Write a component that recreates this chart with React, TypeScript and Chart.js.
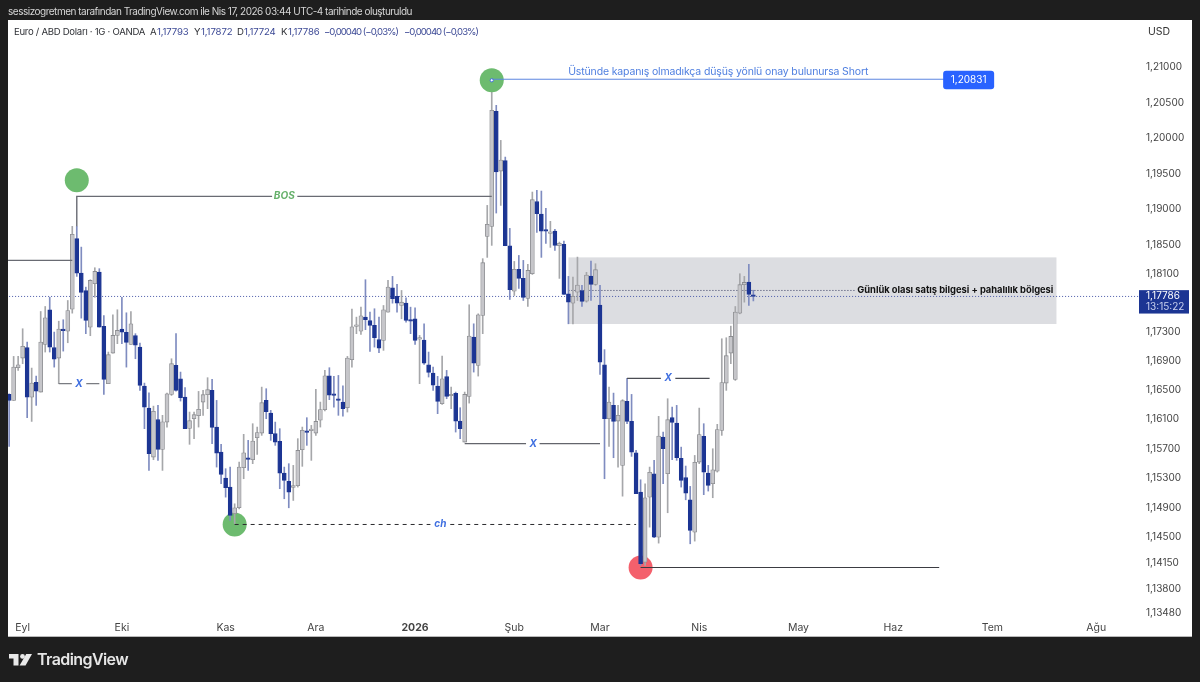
import React, { useEffect, useRef } from "react";
import Chart from "chart.js/auto";

const opens = [
  1.16438,1.16356,1.16804,1.16936,1.17079,1.16401,1.16603,1.1647,1.17124,1.17602,
  1.17079,1.16936,1.17335,1.17307,1.1761,1.18589,1.18109,1.17869,1.17362,1.17962,
  1.18123,1.17372,1.16585,1.17005,1.17248,1.17335,1.1729,1.17124,1.17244,1.17087,
  1.16552,1.16251,1.15584,1.16093,1.15688,1.1606,1.16438,1.16836,1.16653,1.16401,
  1.15974,1.16106,1.16148,1.16333,1.16434,1.16493,1.15992,1.15651,1.15298,1.15177,
  1.14816,1.14897,1.1544,1.15562,1.15548,1.15848,1.1591,1.16356,1.16183,1.15902,
  1.15797,1.15366,1.15254,1.15173,1.15196,1.15684,1.15938,1.15943,1.1591,1.16087,
  1.1623,1.16694,1.16442,1.16374,1.16333,1.16256,1.16914,1.17372,1.17307,1.175,
  1.17454,1.17386,1.17189,1.17179,1.17569,1.17907,1.17786,1.17661,1.17693,1.17454,
  1.17477,1.17197,1.17183,1.16845,1.1673,1.16552,1.16311,1.16681,1.1642,1.16452,
  1.16073,1.15788,1.16411,1.17225,1.16836,1.17523,1.1862,1.1876,1.20376,1.19534,
  1.19681,1.1849,1.17859,1.18161,1.18036,1.17758,1.18101,1.19105,1.18932,1.18708,
  1.18662,1.18694,1.1849,1.18509,1.17823,1.17693,1.17845,1.17869,1.1772,1.18068,
  1.17953,1.17665,1.16845,1.16106,1.16288,1.16074,1.15471,1.16342,1.16069,1.15643,
  1.15109,1.14165,1.15041,1.15358,1.14502,1.15856,1.15358,1.1612,1.16047,1.15566,
  1.15304,1.15005,1.14569,1.15516,1.15866,1.15366,1.15222,1.15393,1.15947,1.16593,
  1.17005,1.16644,1.17555,1.17949,1.17984,1.17793,
];
const highs = [
  1.16447,1.16959,1.16959,1.1734,1.17156,1.16799,1.16689,1.17578,1.17647,1.17775,
  1.17294,1.17444,1.17464,1.1773,1.1876,1.1876,1.18471,1.17915,1.18018,1.18184,
  1.18171,1.17523,1.17019,1.17532,1.17602,1.17775,1.1756,1.17578,1.17272,1.17142,
  1.16593,1.16461,1.16278,1.16288,1.16152,1.16456,1.16927,1.17272,1.16744,1.1653,
  1.16197,1.16197,1.16479,1.16493,1.16667,1.16644,1.16356,1.15757,1.15426,1.15448,
  1.14951,1.15516,1.15893,1.15811,1.16038,1.15992,1.16538,1.16516,1.1622,1.1606,
  1.1597,1.15448,1.15494,1.15471,1.15834,1.15992,1.1612,1.16015,1.16507,1.16333,
  1.16767,1.16804,1.16685,1.16698,1.16557,1.16959,1.1761,1.175,1.17638,1.18018,
  1.17569,1.17616,1.175,1.17661,1.18008,1.18064,1.17953,1.17869,1.17767,1.17638,
  1.17629,1.17248,1.17408,1.17019,1.16812,1.16685,1.16964,1.16767,1.16538,1.1647,
  1.16256,1.1647,1.17671,1.17408,1.17546,1.1831,1.19053,1.20831,1.20461,1.19966,
  1.19731,1.18732,1.18272,1.18355,1.18286,1.1823,1.1924,1.19264,1.19254,1.19012,
  1.1883,1.18718,1.18541,1.18555,1.18064,1.18054,1.18332,1.17939,1.1812,1.18276,
  1.1824,1.17939,1.17052,1.16538,1.16456,1.16288,1.16366,1.16657,1.16438,1.15674,
  1.15276,1.15222,1.15448,1.15539,1.16138,1.15924,1.16379,1.16265,1.16288,1.15719,
  1.15462,1.15186,1.15606,1.16251,1.16038,1.15471,1.15697,1.16029,1.17202,1.17216,
  1.17376,1.17647,1.18101,1.18064,1.1823,1.17872,
];
const lows = [
  1.15729,1.16356,1.16767,1.16859,1.1612,1.16069,1.16288,1.1647,1.17019,1.17019,
  1.16812,1.16585,1.17032,1.17147,1.17555,1.18064,1.17486,1.17272,1.17244,1.17775,
  1.17362,1.16438,1.16585,1.17005,1.17134,1.17134,1.16812,1.17124,1.16927,1.16493,
  1.1597,1.15403,1.15548,1.15539,1.15403,1.15992,1.16424,1.16483,1.16347,1.1597,
  1.15757,1.15834,1.15992,1.16152,1.16243,1.15766,1.15448,1.15222,1.15041,1.14726,
  1.14682,1.14883,1.1529,1.15403,1.15494,1.1562,1.15879,1.16106,1.15811,1.15743,
  1.15155,1.15019,1.14897,1.14996,1.15177,1.15458,1.15743,1.15539,1.15879,1.15992,
  1.16211,1.16366,1.16265,1.16152,1.16142,1.16197,1.16812,1.17272,1.17262,1.17327,
  1.17028,1.17087,1.1701,1.17042,1.17569,1.17693,1.17569,1.17477,1.17431,1.17272,
  1.17124,1.16585,1.16849,1.16676,1.16493,1.16175,1.16302,1.16379,1.16243,1.15924,
  1.15834,1.15788,1.16319,1.16744,1.16689,1.17272,1.18328,1.18495,1.18946,1.19053,
  1.1849,1.17744,1.17799,1.17897,1.1773,1.17647,1.18091,1.18676,1.18328,1.18523,
  1.18467,1.18425,1.18036,1.17813,1.17408,1.17408,1.1773,1.17647,1.17707,1.1773,
  1.17939,1.16712,1.1529,1.15729,1.15575,1.15448,1.15054,1.16038,1.15593,1.15087,
  1.14121,1.14121,1.14636,1.14493,1.14421,1.15222,1.1483,1.15548,1.15539,1.15177,
  1.15005,1.14412,1.14448,1.15494,1.15074,1.15123,1.15033,1.1538,1.15879,1.16493,
  1.16859,1.1663,1.17546,1.17707,1.17661,1.17724,
];
const closes = [
  1.16356,1.16812,1.16845,1.17097,1.16401,1.16593,1.16483,1.17156,1.17491,1.17087,
  1.16922,1.17335,1.17313,1.17592,1.18648,1.18109,1.17841,1.17454,1.18008,1.18133,
  1.17362,1.16644,1.16983,1.17248,1.17317,1.17294,1.17152,1.17408,1.17115,1.16561,
  1.16265,1.15629,1.16206,1.15688,1.16065,1.16447,1.16859,1.16493,1.16393,1.1597,
  1.16079,1.16161,1.16234,1.16434,1.16503,1.15988,1.15637,1.15349,1.15169,1.14794,
  1.14897,1.15448,1.15643,1.15553,1.15801,1.15916,1.16325,1.16202,1.15902,1.15788,
  1.15366,1.15267,1.15109,1.15196,1.15674,1.15947,1.1592,1.15961,1.16069,1.1623,
  1.16694,1.16428,1.16424,1.16356,1.16243,1.16936,1.17368,1.17386,1.17519,1.17464,
  1.17386,1.17216,1.17074,1.17602,1.17915,1.17754,1.17693,1.17707,1.17454,1.17444,
  1.17179,1.17216,1.16867,1.1674,1.16566,1.16342,1.16653,1.16411,1.16434,1.16073,
  1.1597,1.16438,1.17238,1.16867,1.17532,1.18254,1.18788,1.2039,1.19521,1.19689,
  1.1849,1.17879,1.18161,1.18036,1.17772,1.18147,1.19133,1.18938,1.18694,1.18694,
  1.18676,1.18495,1.18523,1.17813,1.17707,1.1779,1.17943,1.17716,1.18082,1.17953,
  1.18157,1.16881,1.16106,1.16333,1.16069,1.16152,1.16352,1.16069,1.15651,1.15087,
  1.14144,1.15032,1.15376,1.14502,1.1587,1.15697,1.16093,1.16056,1.15575,1.15267,
  1.15095,1.14592,1.15512,1.15889,1.1538,1.152,1.15412,1.15957,1.16599,1.16969,
  1.17234,1.17569,1.17949,1.1798,1.17813,1.17786,
];

const priceTicks = [1.21,1.205,1.2,1.195,1.19,1.185,1.181,1.173,1.169,1.165,1.161,1.157,1.153,1.149,1.145,1.1415,1.138,1.1348];
const monthAt = [3,25,48,68,90,112,131,153,175,196,218,241];
const monthNames = ["Eyl","Eki","Kas","Ara","2026","Şub","Mar","Nis","May","Haz","Tem","Ağu"];

const lastPrice = 1.17786;
const shortPrice = 1.20831;
const bosPrice = 1.19179;

type Pt = [number, number] | null;
const bosLine: Pt[] = [[15,1.1876],[15,bosPrice],[58.3,bosPrice],null,[63.9,bosPrice],[107,bosPrice]];
const prevLine: Pt[] = [[-2,1.18286],[14,1.18286]];
const xLeft: Pt[] = [[11,1.16585],[13.9,1.16585],null,[17.1,1.16585],[20,1.16585]];
const xMid: Pt[] = [[101,1.15767],[114.6,1.15767],null,[117.6,1.15767],[131,1.15767]];
const xRight: Pt[] = [[137,1.16657],[144.5,1.16657],null,[147.7,1.16657],[155.3,1.16657]];
const chLine: Pt[] = [[50,1.14672],[93.4,1.14672],null,[97.8,1.14672],[139,1.14672]];
const lowLine: Pt[] = [[140,1.14094],[206.2,1.14094]];
const shortLine: Pt[] = [[107,shortPrice],[207.3,shortPrice]];
const zoneDotted: Pt[] = [[124,1.17869],[187.6,1.17869]];
const priceDotted: Pt[] = [[-2,lastPrice],[260,lastPrice]];
const greenPoints = [{x:15,y:1.19404},{x:50,y:1.14672}];
const topPoint = [{x:107,y:1.20816}];
const redPoint = [{x:140,y:1.14094}];
const zone = { from: 124, to: 232.2, top: 1.18328, bottom: 1.17405 };

const FONT = "Inter, 'Noto Sans', sans-serif";
const BLUE = "#1c3593";
const lineSet = (pts: Pt[], color: string, width: number, dash: number[], order: number) => ({
  type: "line" as const,
  data: pts.map((p) => (p ? { x: p[0], y: p[1] } : { x: NaN, y: NaN })),
  borderColor: color, borderWidth: width, borderDash: dash,
  pointRadius: 0, spanGaps: false, tension: 0, fill: false, order,
});
const pointSet = (pts: {x:number;y:number}[], color: string, r: number, order: number, border = color, bw = 0) => ({
  type: "scatter" as const,
  data: pts, backgroundColor: color, borderColor: border, borderWidth: bw,
  pointRadius: r, pointHoverRadius: r, showLine: false, order,
});

const frame = {
  id: "frame",
  beforeDraw(c: any) {
    const g = c.ctx;
    g.save();
    g.fillStyle = "#1e1e1e"; g.fillRect(0, 0, 1200, 682);
    g.fillStyle = "#ffffff"; g.fillRect(8, 20, 1184, 617);
    g.fillStyle = "#b9b9b9"; g.fillRect(8, 636, 1184, 1);
    g.restore();
  },
  beforeDatasetsDraw(c: any) {
    const { x, y } = c.scales; const g = c.ctx;
    g.save();
    g.fillStyle = "#dcdde1";
    const l = x.getPixelForValue(zone.from), r = x.getPixelForValue(zone.to);
    const t = y.getPixelForValue(zone.top), b = y.getPixelForValue(zone.bottom);
    g.fillRect(l, t, r - l, b - t);
    g.restore();
  },
  afterDraw(c: any) {
    const { x, y } = c.scales; const g = c.ctx;
    const text = (s: string, px: number, py: number, font: string, color: string, align: CanvasTextAlign = "left", fit = 0) => {
      g.font = font; g.fillStyle = color; g.textAlign = align; g.textBaseline = "middle";
      g.letterSpacing = "0px";
      if (fit) g.letterSpacing = `${(fit - g.measureText(s).width) / s.length}px`;
      g.fillText(s, px, py);
      g.letterSpacing = "0px";
    };
    g.save();
    text("sessizogretmen tarafından TradingView.com ile Nis 17, 2026 03:44 UTC-4 tarihinde oluşturuldu", 8, 12, `10px ${FONT}`, "#d6d6d6", "left", 404);
    const LEG = `9.6px ${FONT}`;
    text("Euro / ABD Doları · 1G · OANDA", 14, 32, LEG, "#2f3136", "left", 131);
    const vals: [string, number, string][] = [["A",150,"1,17793"],["Y",194,"1,17872"],["D",237,"1,17724"],["K",281,"1,17786"]];
    vals.forEach(([a, px, v]) => { text(a, px, 32, LEG, "#2f3136"); text(v, px + 7, 32, LEG, "#3d4a96", "left", 31.5); });
    text("−0,00040 (−0,03%)", 324, 32, LEG, "#3d4a96", "left", 74);
    text("−0,00040 (−0,03%)", 404, 32, LEG, "#3d4a96", "left", 74);

    text("USD", 1148, 32, `10.5px ${FONT}`, "#333");
    const yPrice = y.getPixelForValue(lastPrice);
    g.fillStyle = BLUE; g.fillRect(1139, yPrice - 6.3, 50, 23.4);
    text("1,17786", 1146, yPrice - 0.3, `10px ${FONT}`, "#ffffff");
    text("13:15:22", 1146, yPrice + 10.5, `10px ${FONT}`, "#c8d0ee");

    const ITALIC = `italic 700 10px ${FONT}`;
    const yOf = (v: number) => y.getPixelForValue(v);
    text("BOS", x.getPixelForValue(61), yOf(bosPrice), ITALIC, "#65b06a", "center");
    text("X", x.getPixelForValue(15.5), yOf(1.16585), ITALIC, "#3f6fe0", "center");
    text("X", x.getPixelForValue(116.2), yOf(1.15767), ITALIC, "#3f6fe0", "center");
    text("X", x.getPixelForValue(146.1), yOf(1.16657), ITALIC, "#3f6fe0", "center");
    text("ch", x.getPixelForValue(95.6), yOf(1.14672), ITALIC, "#3f6fe0", "center");
    text("Üstünde kapanış olmadıkça düşüş yönlü onay bulunursa Short", x.getPixelForValue(157.2), yOf(shortPrice) - 7, `10.5px ${FONT}`, "#4f7fe0", "center", 300);
    text("Günlük olası satış bilgesi + pahalılık bölgesi", x.getPixelForValue(231.5), yOf(1.17869), `700 9.4px ${FONT}`, "#111", "right", 196);

    const sx = x.getPixelForValue(207.3), sy = yOf(shortPrice);
    g.fillStyle = "#2962ff"; g.beginPath(); g.roundRect(sx - 1, sy - 8.5, 51, 18.5, 3); g.fill();
    text("1,20831", sx + 24.5, sy + 0.5, `10px ${FONT}`, "#ffffff", "center");

    g.fillStyle = "#e9e9e9";
    g.beginPath();
    g.moveTo(9, 654); g.lineTo(18.5, 654); g.lineTo(18.5, 665.5); g.lineTo(13.5, 665.5); g.lineTo(13.5, 658.5); g.lineTo(9, 658.5);
    g.closePath(); g.fill();
    g.beginPath(); g.arc(22.5, 656.4, 2.4, 0, Math.PI * 2); g.fill();
    g.beginPath();
    g.moveTo(26.2, 654); g.lineTo(32, 654); g.lineTo(25.5, 665.5); g.lineTo(19.6, 665.5);
    g.closePath(); g.fill();
    text("TradingView", 37, 660, `600 16px ${FONT}`, "#e6e6e6", "left", 91);
    g.restore();
  },
};

export default function App() {
  const ref = useRef<HTMLCanvasElement>(null);
  useEffect(() => {
    const wicks = opens.map((_, i) => ({ x: i, y: [lows[i], highs[i]] }));
    const bodies = opens.map((o, i) => ({ x: i, y: [o, closes[i]] }));
    const isUp = (i: number) => closes[i] >= opens[i];
    const chart = new Chart(ref.current as HTMLCanvasElement, {
      type: "bar",
      data: {
        datasets: [
          lineSet(priceDotted, "#4a5aa8", 1, [1, 2], 70),
          lineSet(zoneDotted, "#3a3f63", 1, [1, 2], 70),
          pointSet(greenPoints, "#6dbb6f", 12, 60),
          pointSet(redPoint, "#f4606c", 12, 60),
          {
            type: "bar", data: wicks, grouped: false, barThickness: 1, minBarLength: 1,
            backgroundColor: (c: any) => (isUp(c.dataIndex) ? "#a6a7aa" : "#7f8cc0"), order: 40,
          },
          {
            type: "bar", data: bodies, grouped: false, barThickness: 4, minBarLength: 1.5,
            backgroundColor: (c: any) => (isUp(c.dataIndex) ? "#c6c6ca" : BLUE),
            borderColor: (c: any) => (isUp(c.dataIndex) ? "#8b8c90" : BLUE),
            borderWidth: 0.8, borderSkipped: false, order: 30,
          },
          pointSet(topPoint, "#6dbb6f", 12, 25),
          lineSet(bosLine, "#696b73", 1.4, [], 20),
          lineSet(prevLine, "#696b73", 1.4, [], 20),
          lineSet(xLeft, "#7a7c82", 1.3, [], 20),
          lineSet(xMid, "#63656c", 1.3, [], 20),
          lineSet(xRight, "#4a4c52", 1.2, [], 20),
          lineSet(chLine, "#2b2b2e", 1, [4, 4], 20),
          lineSet(lowLine, "#3b3c42", 1.1, [], 20),
          lineSet(shortLine, "#5b86e0", 1, [], 20),
          pointSet(topPoint, "#ffffff", 1.6, 5, "#3f6fe0", 1),
        ] as any,
      },
      options: {
        responsive: false,
        animation: false,
        events: [],
        layout: { autoPadding: false, padding: { left: 8, top: 20, right: 8, bottom: 45 } },
        plugins: { legend: { display: false }, tooltip: { enabled: false }, title: { display: false } },
        scales: {
          x: {
            type: "linear", offset: false, min: -0.25, max: 250.5,
            grid: { display: false, offset: false, drawTicks: false }, border: { display: false },
            afterBuildTicks: (s: any) => { s.ticks = monthAt.map((value) => ({ value })); },
            afterFit: (s: any) => { s.height = 23; s.paddingLeft = 0; s.paddingRight = 0; },
            ticks: {
              autoSkip: false, maxRotation: 0, padding: 8, color: "#444",
              font: (c: any) => (c.tick && c.tick.value === 90
                ? { family: FONT, size: 10.5, weight: "700" }
                : { family: FONT, size: 10.5 }),
              callback: (v: any) => monthNames[monthAt.indexOf(Number(v))] ?? "",
            },
          },
          y: {
            type: "logarithmic", position: "right", bounds: "data", min: 1.13472, max: 1.21675,
            grid: { display: false, drawTicks: false }, border: { display: false },
            afterBuildTicks: (s: any) => { s.ticks = priceTicks.map((value) => ({ value })); },
            afterFit: (s: any) => { s.width = 53; s.paddingTop = 0; s.paddingBottom = 0; },
            ticks: {
              autoSkip: false, padding: 7, color: "#444", font: { family: FONT, size: 10 },
              callback: (v: any) => Number(v).toFixed(5).replace(".", ","),
            },
          },
        },
      } as any,
      plugins: [frame],
    } as any);
    return () => chart.destroy();
  }, []);
  return (
    <div style={{ position: "fixed", left: 0, top: 0, width: 1200, height: 682 }}>
      <canvas ref={ref} width={1200} height={682} style={{ display: "block" }} />
    </div>
  );
}
